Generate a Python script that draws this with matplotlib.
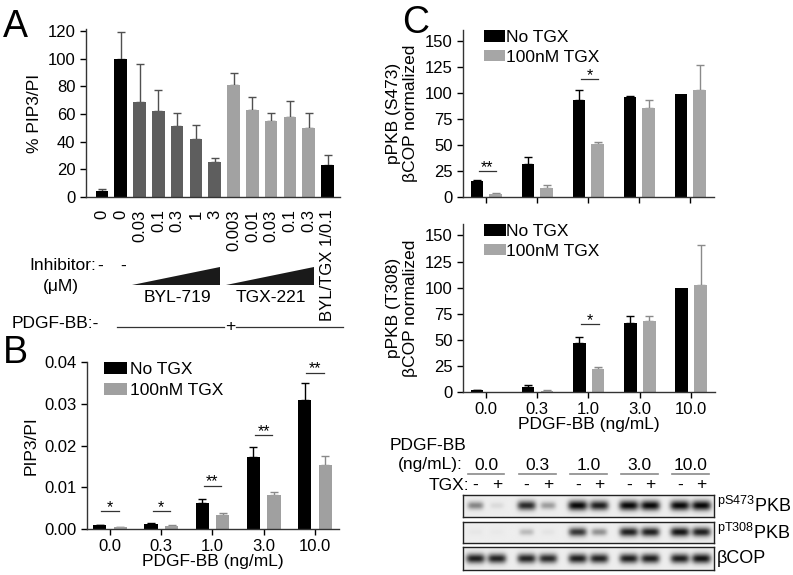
import numpy as np
import matplotlib
matplotlib.use('Agg')
import matplotlib.pyplot as plt
from matplotlib.patches import Polygon
import matplotlib.transforms as mtrans

plt.rcParams['font.family'] = ['Liberation Sans', 'DejaVu Sans']
plt.rcParams['mathtext.fontset'] = 'custom'
plt.rcParams['mathtext.rm'] = 'Liberation Sans'

W, H = 793, 575

# ---------------- data ----------------
# Panel A
a_labels = ['0', '0', '0.03', '0.1', '0.3', '1', '3', '0.003', '0.01', '0.03', '0.1', '0.3', 'BYL/TGX 1/0.1']
a_values = [4, 100, 69, 62, 51, 42, 25, 81, 63, 55, 58, 50, 23]
a_err = [1.5, 19, 27, 15, 10, 10, 3.5, 8.5, 9, 5.5, 11.5, 10.5, 7]
a_group = ['ctrl', 'ctrl', 'byl', 'byl', 'byl', 'byl', 'byl', 'tgx', 'tgx', 'tgx', 'tgx', 'tgx', 'combo']

# Panel B
conc_labels = ['0.0', '0.3', '1.0', '3.0', '10.0']
b_no = [0.0009, 0.0013, 0.0063, 0.0172, 0.031]
b_no_err = [0.0001, 0.0002, 0.0008, 0.0025, 0.004]
b_tgx = [0.0004, 0.0008, 0.0034, 0.0081, 0.0153]
b_tgx_err = [0.0001, 0.0002, 0.0005, 0.0008, 0.0022]
b_sig = ['*', '*', '**', '**', '**']
b_sig_y = [0.0043, 0.0043, 0.0104, 0.0224, 0.0374]

# Panel C top (S473)
c1_no = [15, 32, 93.5, 96, 99.5]
c1_no_err = [1.5, 6.5, 9, 1.5, 0]
c1_tgx = [3, 9, 50.5, 86, 103]
c1_tgx_err = [1, 3, 2, 7.5, 23.5]
c1_sig = ['**', '', '*', '', '']
c1_sig_y = [25, 0, 113.5, 0, 0]

# Panel C bottom (T308)
c2_no = [1.5, 5, 47, 66, 100]
c2_no_err = [0.5, 2, 6, 7, 0]
c2_tgx = [0.3, 1, 22, 68, 103]
c2_tgx_err = [0, 1, 1.5, 4.5, 38]
c2_sig = ['', '', '*', '', '']
c2_sig_y = [0, 0, 64.7, 0, 0]

# Western blot band intensities (lanes: -,+ per concentration)
blot_rows = [r'$\mathregular{^{pS473}}$PKB', r'$\mathregular{^{pT308}}$PKB', 'βCOP']
blot_s473 = [0.45, 0.08, 0.85, 0.35, 1.0, 0.9, 1.0, 1.0, 1.0, 1.0]
blot_t308 = [0.03, 0.02, 0.22, 0.04, 0.8, 0.4, 0.9, 0.9, 0.95, 0.9]
blot_bcop = [0.9, 0.88, 0.88, 0.85, 0.9, 0.88, 0.9, 0.9, 0.9, 0.95]
tgx_signs = ['-', '+']

# ---------------- figure ----------------
fig = plt.figure(figsize=(W / 100, H / 100), dpi=100)


def add_ax(l, t, r, b):
    return fig.add_axes([l / W, 1 - b / H, (r - l) / W, (b - t) / H])


def fy(y):
    return 1 - y / H


def fx(x):
    return x / W


SP = '#333333'
TFS = 12
LFS = 12.5


def style(ax):
    for s in ['top', 'right']:
        ax.spines[s].set_visible(False)
    for s in ['left', 'bottom']:
        ax.spines[s].set_color(SP)
        ax.spines[s].set_linewidth(1.0)
    ax.tick_params(colors='black', labelsize=TFS, length=4, width=1, direction='out')
    for t in ax.get_xticklines() + ax.get_yticklines():
        t.set_color(SP)


def sig_mark(ax, x0, x1, y, s):
    ax.plot([x0, x1], [y, y], color='#333333', lw=0.9)
    ax.annotate(s, xy=((x0 + x1) / 2, y), xytext=(0, -0.5), textcoords='offset points',
                ha='center', va='baseline', fontsize=11.5)


# ---------- Panel A ----------
axA = add_ax(86, 29, 340, 197)
style(axA)
colmap = {'ctrl': '#000000', 'byl': '#5e5e5e', 'tgx': '#a2a2a2', 'combo': '#000000'}
xa = np.arange(len(a_values))
axA.bar(xa, a_values, width=0.67, color=[colmap[g] for g in a_group], zorder=2)
axA.errorbar(xa, a_values, yerr=[np.zeros(len(a_err)), a_err], fmt='none', ecolor='#505050',
             elinewidth=1, capsize=3, capthick=1, zorder=1)
axA.set_xlim(-0.85, 12.66)
axA.set_ylim(0, 121.4)
axA.set_yticks(np.arange(0, 121, 20))
axA.set_xticks(xa)
axA.set_xticklabels(a_labels, rotation=90, va='top', ha='center')
axA.tick_params(axis='x', length=0, pad=9)
axA.set_ylabel('% PIP3/PI', fontsize=LFS, labelpad=4)

transA = mtrans.blended_transform_factory(axA.transData, fig.transFigure)
# triangles
for i0, i1 in [(2, 6), (7, 11)]:
    tri = Polygon([(i0 - 0.4, fy(285)), (i1 + 0.28, fy(285)), (i1 + 0.28, fy(267))],
                  closed=True, facecolor='#1a1a1a', edgecolor='none', transform=transA, clip_on=False)
    fig.add_artist(tri)
fig.text(fx(96), fy(265), 'Inhibitor:', fontsize=LFS, ha='right', va='center')
fig.text(fx(100), fy(266), '-', fontsize=LFS, ha='center', va='center')
fig.text(fx(123), fy(266), '-', fontsize=LFS, ha='center', va='center')
fig.text(fx(61), fy(287), '(μM)', fontsize=LFS, ha='center', va='center')
fig.text(4.0, fy(297), 'BYL-719', fontsize=LFS, ha='center', va='center', transform=transA)
fig.text(9.0, fy(297), 'TGX-221', fontsize=LFS, ha='center', va='center', transform=transA)
fig.text(fx(12), fy(324), 'PDGF-BB:-', fontsize=LFS, ha='left', va='center')
fig.add_artist(plt.Line2D([fx(117), fx(224)], [fy(327), fy(327)], color='#333333', lw=0.9))
fig.add_artist(plt.Line2D([fx(236), fx(343)], [fy(327), fy(327)], color='#333333', lw=0.9))
fig.text(fx(230), fy(327), '+', fontsize=LFS, ha='center', va='center')

# ---------- Panel B ----------
axB = add_ax(87, 362, 339, 529)
style(axB)
xb = np.arange(len(conc_labels))
off, bw = 0.2, 0.26
axB.bar(xb - off, b_no, width=bw, color='black', label='No TGX', zorder=2)
axB.bar(xb + off, b_tgx, width=bw, color='#a0a0a0', label='100nM TGX', zorder=2)
axB.errorbar(xb - off, b_no, yerr=[np.zeros(5), b_no_err], fmt='none', ecolor='black',
             elinewidth=1, capsize=3, capthick=1, zorder=1)
axB.errorbar(xb + off, b_tgx, yerr=[np.zeros(5), b_tgx_err], fmt='none', ecolor='#8a8a8a',
             elinewidth=1, capsize=3, capthick=1, zorder=1)
axB.set_xlim(-0.45, 4.47)
axB.set_ylim(0, 0.04)
axB.set_yticks([0, 0.01, 0.02, 0.03, 0.04])
axB.set_yticklabels(['0.00', '0.01', '0.02', '0.03', '0.04'])
axB.set_xticks(xb)
axB.set_xticklabels(conc_labels)
axB.set_ylabel('PIP3/PI', fontsize=LFS, labelpad=4)
axB.set_xlabel('PDGF-BB (ng/mL)', fontsize=LFS, labelpad=0)
for i in range(5):
    sig_mark(axB, i - 0.17, i + 0.17, b_sig_y[i], b_sig[i])
axB.legend(loc='upper left', bbox_to_anchor=(0.04, 1.04), frameon=False, fontsize=LFS,
           handlelength=1.3, handleheight=0.7, handletextpad=0.2, labelspacing=0.3, borderaxespad=0)


# ---------- Panel C charts ----------
def cbar(ax, no, noerr, tgx, tgxerr, sig, sigy):
    style(ax)
    x = np.arange(len(no))
    ax.bar(x - 0.18, no, width=0.245, color='black', label='No TGX', zorder=2)
    ax.bar(x + 0.19, tgx, width=0.245, color='#a6a6a6', label='100nM TGX', zorder=2)
    for xi, v, e in zip(x - 0.18, no, noerr):
        if e > 0:
            ax.errorbar([xi], [v], yerr=[[0], [e]], fmt='none', ecolor='black', elinewidth=1,
                        capsize=3, capthick=1, zorder=1)
    for xi, v, e in zip(x + 0.19, tgx, tgxerr):
        if e > 0:
            ax.errorbar([xi], [v], yerr=[[0], [e]], fmt='none', ecolor='#8a8a8a', elinewidth=1,
                        capsize=3, capthick=1, zorder=1)
    for i, s in enumerate(sig):
        if s:
            sig_mark(ax, i - 0.14, i + 0.2, sigy[i], s)
    ax.set_xlim(-0.45, 4.47)
    ax.set_yticks([0, 25, 50, 75, 100, 125, 150])
    ax.set_xticks(x)
    ax.legend(loc='upper left', bbox_to_anchor=(0.055, 1.04), frameon=False, fontsize=LFS,
              handlelength=1.25, handleheight=0.65, handletextpad=0.05, labelspacing=0.25,
              borderaxespad=0)


axC1 = add_ax(463, 30, 714, 197)
cbar(axC1, c1_no, c1_no_err, c1_tgx, c1_tgx_err, c1_sig, c1_sig_y)
axC1.set_ylim(0, 160.6)
axC1.set_xticklabels([])
axC1.set_ylabel('pPKB (S473)\nβCOP normalized', fontsize=LFS, labelpad=5, linespacing=1.15)

axC2 = add_ax(463, 224, 715, 392)
cbar(axC2, c2_no, c2_no_err, c2_tgx, c2_tgx_err, c2_sig, c2_sig_y)
axC2.set_ylim(0, 161)
axC2.set_xticklabels(conc_labels)
axC2.set_xlabel('PDGF-BB (ng/mL)', fontsize=LFS, labelpad=0)
axC2.set_ylabel('pPKB (T308)\nβCOP normalized', fontsize=LFS, labelpad=5, linespacing=1.15)

# ---------- Western blot ----------
lane_x = []
for i in range(len(conc_labels)):
    lane_x += [i - 0.21, i + 0.21]
lane_x = np.array(lane_x)
boxes = [(495, 517), (522, 543), (547, 570)]
intens = [blot_s473, blot_t308, blot_bcop]
gx = np.linspace(-0.45, 4.47, 400)
gy = np.linspace(0, 1, 40)
GX, GY = np.meshgrid(gx, gy)
for (t, b), row, lab in zip(boxes, intens, blot_rows):
    ax = add_ax(463, t, 714, b)
    img = np.zeros_like(GX)
    for xl, I in zip(lane_x, row):
        hw = 0.13 + 0.06 * I
        hh = 0.14 + 0.08 * I
        img += I * np.exp(-((GX - xl) / hw) ** 4) * np.exp(-((GY - 0.5) / hh) ** 2)
    img = np.clip(img, 0, 1)
    shade = 0.93 - 0.9 * img
    ax.imshow(shade, cmap='gray', vmin=0, vmax=1, extent=(-0.45, 4.47, 0, 1), aspect='auto',
              interpolation='bilinear', origin='lower')
    ax.set_xlim(-0.45, 4.47)
    ax.set_ylim(0, 1)
    ax.set_xticks([])
    ax.set_yticks([])
    for s in ax.spines.values():
        s.set_color('#222222')
        s.set_linewidth(1)
    fig.text(fx(717), fy((t + b) / 2), lab, fontsize=13, ha='left', va='center')

transC = mtrans.blended_transform_factory(axC2.transData, fig.transFigure)
for i, lab in enumerate(conc_labels):
    fig.text(i, fy(465), lab, fontsize=LFS, ha='center', va='center', transform=transC)
    fig.add_artist(plt.Line2D([i - 0.36, i + 0.36], [fy(474), fy(474)], color='#8a8a8a', lw=1.2,
                              transform=transC))
    for j, s in enumerate(tgx_signs):
        fig.text(lane_x[2 * i + j], fy(485), s, fontsize=LFS, ha='center', va='center', transform=transC)
fig.text(fx(390), fy(446), 'PDGF-BB', fontsize=LFS, ha='left', va='center')
fig.text(fx(398), fy(465), '(ng/mL):', fontsize=LFS, ha='left', va='center')
fig.text(fx(469), fy(485), 'TGX:', fontsize=LFS, ha='right', va='center')

# panel letters
fig.text(fx(3), fy(37), 'A', fontsize=27, ha='left', va='baseline')
fig.text(fx(3), fy(363), 'B', fontsize=27, ha='left', va='baseline')
fig.text(fx(402), fy(33), 'C', fontsize=27, ha='left', va='baseline')

fig.savefig('out.png', dpi=100)
